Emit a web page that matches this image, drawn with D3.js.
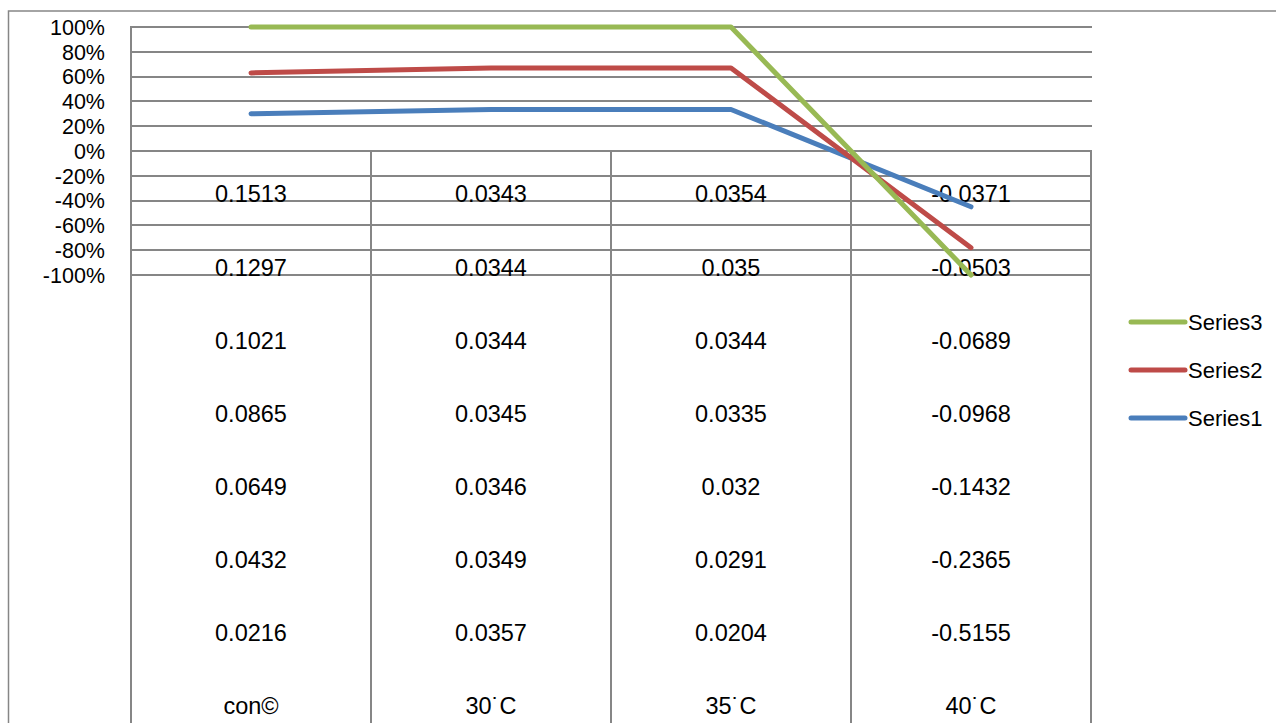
<!DOCTYPE html>
<html>
<head>
<meta charset="utf-8">
<script src="https://cdn.jsdelivr.net/npm/d3@7"></script>
<style>
  body { margin: 0; background: #fff; }
  svg { display: block; font-family: "Liberation Sans", Arial, sans-serif; }
</style>
</head>
<body>
<div id="chart"></div>
<script>
// categories + series (100% stacked line, Excel style)
const categories = ["con©", "30˙C", "35˙C", "40˙C"];
const seriesNames = ["Series1", "Series2", "Series3"];
const series1 = [0.30, 0.335, 0.335, -0.45];
const series2 = [0.33, 0.335, 0.335, -0.33];
const series3 = [0.37, 0.33, 0.33, -0.22];
const seriesColors = ["#4A7EBB", "#BE4B48", "#98B954"];
const yTicks = [-1, -0.8, -0.6, -0.4, -0.2, 0, 0.2, 0.4, 0.6, 0.8, 1];

// data table rows shown under the axis
const tableRows = [
  ["0.1513", "0.0343", "0.0354", "-0.0371"],
  ["0.1297", "0.0344", "0.035", "-0.0503"],
  ["0.1021", "0.0344", "0.0344", "-0.0689"],
  ["0.0865", "0.0345", "0.0335", "-0.0968"],
  ["0.0649", "0.0346", "0.032", "-0.1432"],
  ["0.0432", "0.0349", "0.0291", "-0.2365"],
  ["0.0216", "0.0357", "0.0204", "-0.5155"]
];

const width = 1276, height = 723;
const plot = { left: 131, right: 1091, top: 27, bottom: 275 };
const grid = "#868686";
const gw = 2;

// plain hyphen for negatives, like excel
const pct = d3.formatLocale({ decimal: ".", thousands: ",", grouping: [3], currency: ["", ""], minus: "-" }).format(".0%");

const svg = d3.select("#chart").append("svg")
  .attr("width", width).attr("height", height)
  .attr("viewBox", [0, 0, width, height]);

// outer chart border (runs off the page right + bottom)
svg.append("rect")
  .attr("x", 8.5).attr("y", 11)
  .attr("width", width + 20).attr("height", height + 20)
  .attr("fill", "none").attr("stroke", grid).attr("stroke-width", 1.5);

const x = d3.scaleBand().domain(categories).range([plot.left, plot.right]);
const y = d3.scaleLinear().domain([-1, 1]).range([plot.bottom, plot.top]);

// horizontal gridlines
svg.append("g").selectAll("line").data(yTicks).join("line")
  .attr("x1", plot.left).attr("x2", plot.right + 1)
  .attr("y1", d => Math.round(y(d))).attr("y2", d => Math.round(y(d)))
  .attr("stroke", grid).attr("stroke-width", gw);

// y tick labels
svg.append("g").selectAll("text").data(yTicks).join("text")
  .attr("x", 105).attr("y", d => y(d))
  .attr("dy", "0.36em")
  .attr("text-anchor", "end")
  .attr("font-size", 21.5)
  .attr("fill", "#000")
  .text(d => pct(d));

// value axis line + table column lines
svg.append("line")
  .attr("x1", plot.left).attr("x2", plot.left)
  .attr("y1", plot.top - 1).attr("y2", height)
  .attr("stroke", grid).attr("stroke-width", gw);
svg.append("g").selectAll("line").data(categories).join("line")
  .attr("x1", d => x(d) + x.bandwidth()).attr("x2", d => x(d) + x.bandwidth())
  .attr("y1", y(0) - 1).attr("y2", height)
  .attr("stroke", grid).attr("stroke-width", gw);

// table text
const rowY = d3.scaleLinear().domain([0, 7]).range([194, 706]);
tableRows.forEach((row, i) => {
  svg.append("g").selectAll("text").data(row).join("text")
    .attr("x", (d, j) => x(categories[j]) + x.bandwidth() / 2)
    .attr("y", rowY(i)).attr("dy", "0.36em")
    .attr("text-anchor", "middle").attr("font-size", 23.5)
    .text(d => d);
});
svg.append("g").selectAll("text").data(categories).join("text")
  .attr("x", d => x(d) + x.bandwidth() / 2)
  .attr("y", rowY(7)).attr("dy", "0.36em")
  .attr("text-anchor", "middle").attr("font-size", 23.5)
  .text(d => d);

// percent stacking (divide by sum of absolute values)
const raw = [series1, series2, series3];
const stacked = raw.map((s, k) => categories.map((c, j) => {
  const tot = d3.sum(raw, r => Math.abs(r[j]));
  return { cat: c, v: d3.sum(raw.slice(0, k + 1), r => r[j]) / tot };
}));

const line = d3.line()
  .x(d => x(d.cat) + x.bandwidth() / 2)
  .y(d => y(d.v));

svg.append("g").selectAll("path").data(stacked).join("path")
  .attr("d", line)
  .attr("fill", "none")
  .attr("stroke", (d, i) => seriesColors[i])
  .attr("stroke-width", 5)
  .attr("stroke-linecap", "round")
  .attr("stroke-linejoin", "round");

// legend (reverse order like Excel)
const legendY = [418, 370, 322];
const leg = svg.append("g").selectAll("g").data(seriesNames).join("g")
  .attr("transform", (d, i) => `translate(1131,${legendY[i]})`);
leg.append("line")
  .attr("x1", 0).attr("x2", 54)
  .attr("stroke", (d, i) => seriesColors[i])
  .attr("stroke-width", 5).attr("stroke-linecap", "round");
leg.append("text")
  .attr("x", 57).attr("dy", "0.36em")
  .attr("font-size", 22)
  .text(d => d);
</script>
</body>
</html>
